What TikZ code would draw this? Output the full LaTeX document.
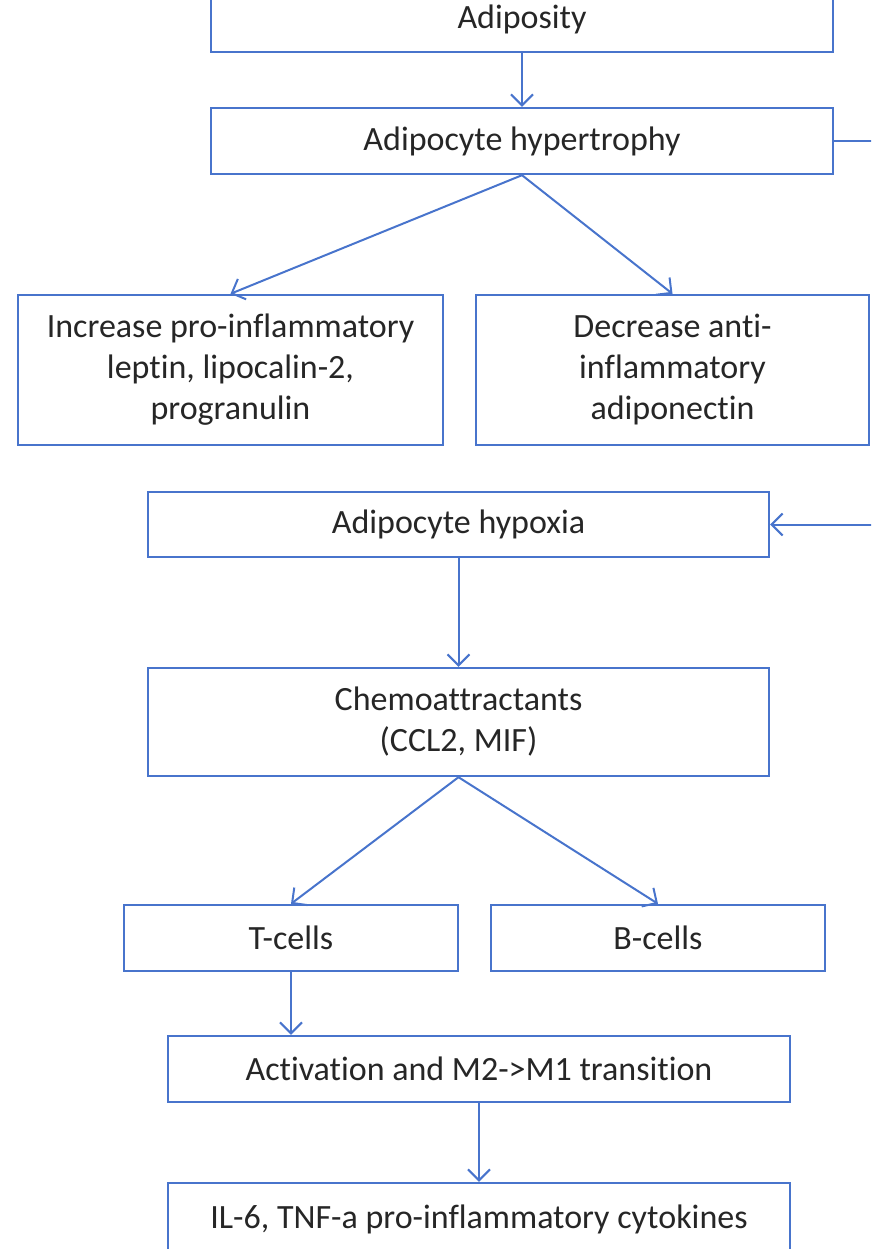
\documentclass[tikz,border=0pt]{standalone}
\usepackage{fontspec}
\setmainfont{Carlito}[Ligatures=NoCommon]
\usetikzlibrary{arrows.meta}
\definecolor{boxblue}{HTML}{4874CC}
\begin{document}
\begin{tikzpicture}[x=1pt,y=-1pt,
    box/.style={draw=boxblue,line width=2.4pt,fill=white,inner sep=0pt,align=center,
        font=\fontsize{34}{41}\selectfont,text=black!85},
    link/.style={draw=boxblue,line width=2pt,-{Straight Barb[length=11pt,width=22pt]}}]
                \useasboundingbox (0,0) rectangle (871,1249);
                \clip (0,0) rectangle (871,1249);

                \node[box,minimum width=622pt,minimum height=66pt] (adipos) at (522,19) {Adiposity};
                \node[box,minimum width=622pt,minimum height=66pt] (hyper) at (522,141) {Adipocyte hypertrophy};

                \node[box,minimum width=425pt,minimum height=150pt] (incr) at (230.5,370) {Increase pro-inflammatory\\leptin, lipocalin-2,\\progranulin};
                \node[box,minimum width=393pt,minimum height=150pt] (decr) at (672.5,370) {Decrease anti-\\inflammatory\\adiponectin};

                \node[box,minimum width=621pt,minimum height=65pt] (hypox) at (458.5,524.5) {Adipocyte hypoxia};
                \node[box,minimum width=621pt,minimum height=108pt] (chemo) at (458.5,722) {Chemoattractants\\(CCL2, MIF)};

                \node[box,minimum width=334pt,minimum height=66pt] (tcell) at (291,938) {T-cells};
                \node[box,minimum width=334pt,minimum height=66pt] (bcell) at (658,938) {B-cells};

                \node[box,minimum width=622pt,minimum height=66pt] (activ) at (479,1069) {Activation and M2->M1 transition};
                \node[box,minimum width=622pt,minimum height=72pt] (cytok) at (479,1219) {IL-6, TNF-a pro-inflammatory cytokines};

                \coordinate (loop) at (900,141);

                \draw[link] (adipos.south) -- (hyper.north);
                \draw[link] (hyper.south) -- (incr.north);
                \draw[link] (hyper.south) -- (decr.north);
                \draw[link] (hyper.east) -- (loop) |- (hypox.east);
                \draw[link] (hypox.south) -- (chemo.north);
                \draw[link] (chemo.south) -- (tcell.north);
                \draw[link] (chemo.south) -- (bcell.north);
                \draw[link] (tcell.south) -- (tcell.south |- activ.north);
                \draw[link] (activ.south) -- (activ.south |- cytok.north);
            \end{tikzpicture}
\end{document}
